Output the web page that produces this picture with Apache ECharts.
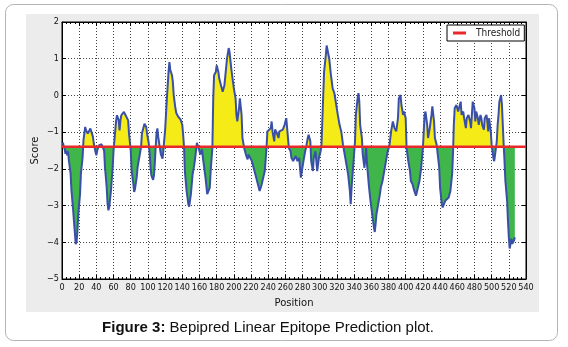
<!DOCTYPE html>
<html>

<head>
    <meta charset="utf-8">
    <title>Bepipred Linear Epitope Prediction</title>
    <script src="https://cdn.jsdelivr.net/npm/echarts@6/dist/echarts.min.js"></script>
    <style>
        html, body { margin: 0; padding: 0; background: #fff; }
    </style>
</head>

<body>
    <div id="main" style="width: 568px;height:347px;"></div>
    <script type="text/javascript">
        // residue positions and Bepipred scores
        var positions = [1, 2, 3, 4, 5, 6, 7, 8, 10, 11, 12, 13, 14, 15, 16, 17, 18, 19, 21, 22, 24, 25, 27, 28, 30, 31, 33, 34, 36, 37,
            39, 40, 41, 43, 44, 46, 48, 49, 50, 52, 53, 54, 55, 57, 59, 60, 62, 63, 64, 66, 67, 68, 69, 71, 72, 74, 75, 77, 78, 80,
            81, 83, 84, 85, 87, 88, 90, 92, 93, 95, 96, 98, 99, 101, 102, 103, 104, 106, 107, 108, 109, 110, 111, 112, 114, 115, 117, 118, 119, 120,
            122, 124, 125, 126, 128, 129, 130, 132, 133, 135, 136, 138, 140, 141, 142, 143, 145, 147, 148, 150, 152, 154, 155, 157, 159, 160, 161, 163, 164, 165,
            167, 169, 170, 172, 173, 175, 176, 177, 179, 180, 182, 183, 185, 187, 189, 190, 192, 194, 195, 197, 199, 200, 202, 203, 204, 206, 207, 209, 210, 212,
            214, 216, 217, 219, 221, 223, 225, 227, 229, 230, 232, 234, 236, 238, 239, 241, 243, 244, 245, 247, 248, 250, 252, 253, 255, 257, 259, 261, 262, 264,
            266, 267, 269, 270, 272, 274, 276, 277, 278, 280, 281, 283, 284, 286, 287, 289, 290, 292, 293, 295, 296, 297, 299, 301, 302, 304, 305, 307, 308, 310,
            311, 313, 315, 317, 319, 321, 323, 325, 327, 329, 331, 333, 335, 336, 337, 339, 341, 342, 344, 345, 346, 347, 349, 350, 352, 353, 354, 355, 357, 359,
            361, 363, 364, 365, 366, 368, 370, 371, 373, 375, 377, 379, 381, 383, 385, 387, 389, 391, 392, 394, 395, 397, 398, 400, 401, 403, 405, 406, 408, 410,
            412, 414, 416, 418, 420, 422, 423, 425, 426, 428, 430, 431, 433, 434, 436, 438, 439, 440, 442, 443, 445, 446, 448, 450, 452, 454, 455, 456, 457, 459,
            461, 462, 464, 465, 467, 468, 470, 471, 473, 475, 476, 477, 478, 480, 481, 482, 484, 485, 487, 488, 489, 491, 492, 494, 495, 496, 497, 499, 500, 501,
            502, 503, 504, 506, 507, 508, 509, 511, 512, 513, 514, 515, 516, 518, 519, 520, 521, 522, 523, 524, 526, 527];
        var scores = [-1.28, -1.38, -1.45, -1.59, -1.50, -1.63, -1.52, -1.77, -2.13, -2.59, -2.86, -3.13, -3.45, -3.75, -4.05, -3.98, -3.68, -3.22, -2.68, -2.13, -1.68, -1.22, -0.86, -0.95, -1.04, -1.00, -0.90, -0.95, -1.13, -1.31,
            -1.54, -1.63, -1.50, -1.36, -1.31, -1.33, -1.38, -1.50, -1.95, -2.50, -2.95, -3.13, -3.04, -2.59, -1.95, -1.50, -0.95, -0.68, -0.54, -0.68, -0.95, -0.68, -0.54, -0.50, -0.45, -0.54, -0.50, -0.68, -1.04, -1.50,
            -2.04, -2.40, -2.63, -2.54, -2.22, -1.95, -1.68, -1.41, -1.04, -0.86, -0.77, -0.86, -1.04, -1.31, -1.59, -1.95, -2.18, -2.30, -2.18, -1.86, -1.41, -1.04, -0.90, -1.13, -1.45, -1.60, -1.72, -1.50, -1.20, -0.95,
            -0.10, 0.64, 0.91, 0.70, 0.55, 0.37, 0.01, -0.35, -0.48, -0.57, -0.53, -0.66, -0.80, -1.07, -1.40, -2.06, -2.60, -2.96, -3.03, -2.69, -2.15, -1.88, -1.70, -1.29, -1.43, -1.52, -1.61, -1.47, -1.70, -1.88,
            -2.24, -2.69, -2.73, -2.51, -2.06, -1.43, -0.08, 0.55, 0.64, 0.82, 0.64, 0.46, 0.28, 0.10, 0.28, 0.51, 1.00, 1.29, 1.18, 0.73, 0.37, 0.19, -0.08, -0.53, -0.71, -0.35, -0.08, -0.53, -1.16, -1.43,
            -1.61, -1.74, -1.61, -1.70, -1.79, -1.97, -2.15, -2.33, -2.51, -2.60, -2.46, -2.42, -2.06, -1.43, -0.98, -0.93, -0.89, -0.71, -0.98, -1.25, -0.93, -1.02, -1.16, -0.98, -1.02, -0.93, -0.80, -0.62, -0.89, -1.43,
            -1.52, -1.70, -1.79, -1.74, -1.65, -1.79, -1.70, -1.97, -2.24, -2.26, -1.79, -1.52, -1.43, -1.16, -1.07, -1.25, -1.79, -2.06, -1.70, -1.52, -1.79, -2.06, -1.70, -1.52, -1.34, 0.00, 0.64, 1.09, 1.36, 1.31,
            1.00, 0.55, 0.19, 0.06, 0.01, -0.53, -0.80, -0.98, -1.34, -1.61, -1.88, -2.15, -2.60, -2.96, -2.51, -1.88, -1.25, -0.53, -0.08, 0.06, -0.17, -0.80, -1.16, -1.61, -1.97, -1.70, -1.43, -1.88, -2.42, -2.87,
            -3.23, -3.59, -3.72, -3.50, -3.23, -2.96, -2.69, -2.51, -2.33, -2.06, -1.79, -1.52, -1.38, -0.98, -0.71, -0.89, -0.98, -0.62, -0.08, 0.01, -0.26, -0.53, -0.44, -0.62, -1.43, -1.79, -2.06, -2.33, -2.42, -2.60,
            -2.73, -2.69, -2.33, -1.97, -1.43, -0.53, -0.44, -0.80, -1.16, -0.89, -0.53, -0.30, -0.71, -1.16, -1.34, -1.38, -1.97, -2.51, -2.96, -3.05, -3.09, -2.87, -2.82, -2.78, -2.60, -2.15, -1.61, -0.80, -0.35, -0.26,
            -0.44, -0.35, -0.17, -0.53, -0.44, -0.62, -0.89, -0.62, -0.53, -0.71, -0.89, -0.53, -0.17, -0.35, -0.71, -0.44, -0.62, -0.80, -0.53, -0.62, -0.80, -0.93, -0.62, -0.53, -0.71, -0.98, -0.62, -0.98, -1.34, -1.52,
            -1.70, -1.79, -1.61, -1.25, -0.80, -0.53, -0.17, 0.01, -0.26, -0.80, -1.34, -1.79, -2.33, -2.87, -3.41, -3.86, -4.17, -4.04, -3.90, -4.04, -3.95, -3.86];

        var threshold = -1.4;
        var xMin = 0, xMax = 540, xStep = 20;
        var yMin = -5, yMax = 2, yStep = 1;

        var tickFont = "'DejaVu Sans Condensed', 'Liberation Sans Narrow', 'DejaVu Sans', sans-serif";
        var nameFont = "'DejaVu Sans', sans-serif";

        var curve = positions.map(function (p, i) { return [p, scores[i]]; });
        var thresholdLine = [[xMin, threshold], [xMax, threshold]];

        var dom = document.getElementById("main");
        var myChart = echarts.init(dom);
        var option = null;

        function minus(v) {
            return String(v).replace('-', '\u2212');
        }

        option = {
            animation: false,
            graphic: [
                // outer rounded frame + grey panel behind the plot
                { type: 'rect', z: -20, shape: { x: 5.5, y: 4.5, width: 552, height: 336, r: 8 },
                  style: { fill: '#fff', stroke: '#b4b4b4', lineWidth: 1 } },
                { type: 'rect', z: -19, shape: { x: 26, y: 14, width: 513, height: 298 },
                  style: { fill: '#ececec' } },
                { type: 'text', z: 10, x: 268, y: 328,
                  style: {
                      text: '{b|Figure 3:} Bepipred Linear Epitope Prediction plot.',
                      rich: { b: { fontWeight: 'bold', fontSize: 15, fontFamily: "'Liberation Sans', Arial, sans-serif", fill: '#111' } },
                      fontSize: 15, fontFamily: "'Liberation Sans', Arial, sans-serif", fill: '#111',
                      align: 'center', verticalAlign: 'middle'
                  } }
            ],
            grid: {
                left: 62, top: 22, right: 42, bottom: 68,
                show: true, backgroundColor: '#fff', borderColor: '#000', borderWidth: 1
            },
            legend: {
                data: [{ name: 'Threshold', icon: 'rect' }],
                left: 447, top: 25,
                itemWidth: 13, itemHeight: 3,
                padding: [3, 4, 3, 6],
                borderColor: '#000', borderWidth: 1, backgroundColor: '#fff',
                selectedMode: false,
                textStyle: { fontSize: 10, color: '#222', fontFamily: tickFont, padding: [0, 0, 0, 5] }
            },
            visualMap: {
                show: false,
                type: 'piecewise',
                seriesIndex: 0,
                dimension: 1,
                pieces: [
                    { gte: -10, lt: threshold, color: '#3fb54a' },
                    { gte: threshold, lte: 10, color: '#f5eb16' }
                ],
                outOfRange: { color: '#f5eb16' }
            },
            xAxis: [{
                type: 'value', min: xMin, max: xMax, interval: xStep,
                name: 'Position', nameLocation: 'middle', nameGap: 19,
                nameTextStyle: { fontSize: 10, color: '#111', fontFamily: nameFont },
                axisLine: { onZero: false, lineStyle: { color: '#000' } },
                axisTick: { inside: true, length: 4, lineStyle: { color: '#000' } },
                minorTick: { show: true, splitNumber: 4, length: 2, lineStyle: { color: '#000' } },
                axisLabel: { fontSize: 9, color: '#111', fontFamily: tickFont, margin: 4 },
                splitLine: { show: true, lineStyle: { color: '#444', type: [1, 2], width: 1 } }
            }, {
                type: 'value', position: 'top', min: xMin, max: xMax, interval: xStep,
                axisLine: { onZero: false, lineStyle: { color: '#000' } },
                axisTick: { inside: true, length: 4, lineStyle: { color: '#000' } },
                minorTick: { show: true, splitNumber: 4, length: 2, lineStyle: { color: '#000' } },
                axisLabel: { show: false },
                splitLine: { show: false }
            }],
            yAxis: [{
                type: 'value', min: yMin, max: yMax, interval: yStep,
                name: 'Score', nameLocation: 'middle', nameGap: 22, nameRotate: 90,
                nameMoveOverlap: false,
                nameTextStyle: { fontSize: 10, color: '#111', fontFamily: nameFont },
                axisLine: { onZero: false, lineStyle: { color: '#000' } },
                axisTick: { inside: true, length: 4, lineStyle: { color: '#000' } },
                axisLabel: { fontSize: 9, color: '#111', fontFamily: tickFont, margin: 3, formatter: minus },
                splitLine: { show: true, lineStyle: { color: '#444', type: [1, 2], width: 1 } }
            }, {
                type: 'value', position: 'right', min: yMin, max: yMax, interval: yStep,
                axisLine: { show: true, onZero: false, lineStyle: { color: '#000' } },
                axisTick: { show: true, inside: true, length: 4, lineStyle: { color: '#000' } },
                axisLabel: { show: false },
                splitLine: { show: false }
            }],
            series: [{
                // fill between the curve and the threshold, coloured by visualMap
                type: 'line',
                data: curve,
                symbol: 'none',
                lineStyle: { width: 0 },
                areaStyle: { origin: threshold, opacity: 1 },
                z: 2
            }, {
                type: 'line',
                data: curve,
                symbol: 'none',
                lineStyle: { color: '#3a50a8', width: 2 },
                itemStyle: { color: '#3a50a8' },
                z: 3
            }, {
                name: 'Threshold',
                type: 'line',
                data: thresholdLine,
                symbol: 'none',
                lineStyle: { color: '#e8282b', width: 2.5 },
                itemStyle: { color: '#e8282b' },
                z: 4
            }]
        };

        if (option && typeof option === "object") {
            myChart.setOption(option, true);
        }
    </script>
</body>

</html>
